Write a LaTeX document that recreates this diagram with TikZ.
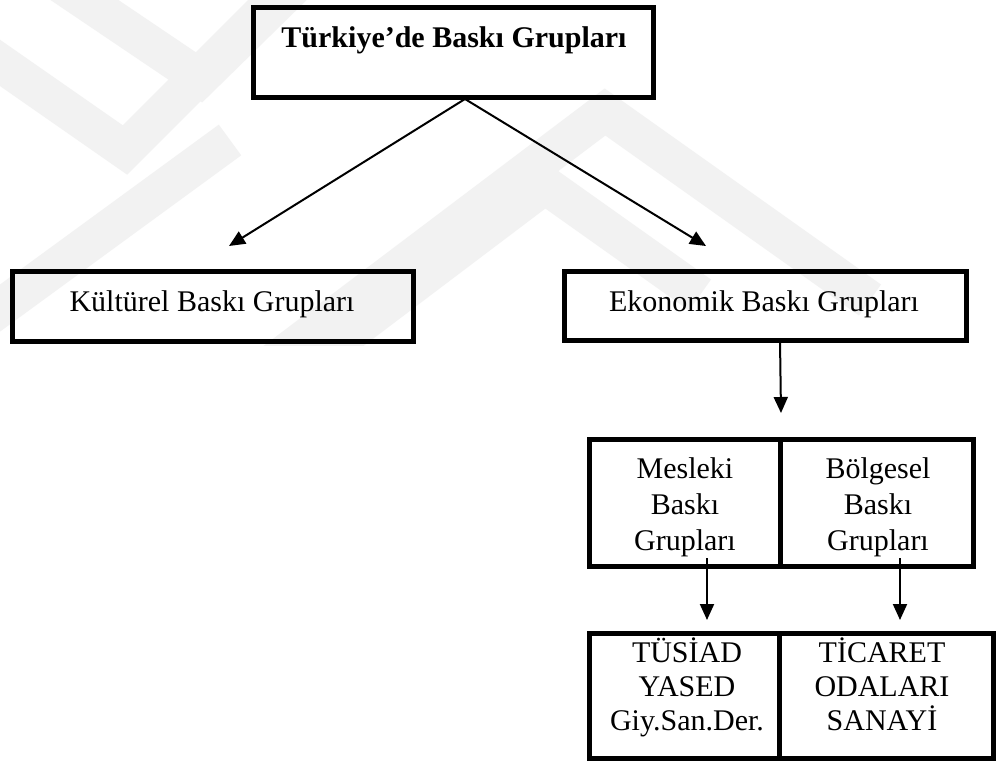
\documentclass[tikz,border=0pt]{standalone}
\usepackage{fontspec}
\setmainfont{Liberation Serif}
\usetikzlibrary{arrows.meta}
\begin{document}
\begin{tikzpicture}[x=1pt,y=-1pt,
  box/.style={draw=black,line width=5pt,inner sep=0pt},
  lbl/.style={font=\fontsize{30}{36}\selectfont,inner sep=0pt,align=center},
  lblb/.style={font=\fontsize{30}{34}\selectfont,inner sep=0pt,align=center},
  conn/.style={line width=2pt,-{Triangle[length=16pt,width=14pt]}},
  wm/.style={line width=38pt,black!5,line join=miter}]
\useasboundingbox (0,0) rectangle (997,763);
\fill[white] (0,0) rectangle (997,763);
% faint watermark
\begin{scope}
\clip (0,0) rectangle (997,345);
\draw[wm] (-40,35) -- (125,150) -- (285,-10);
\draw[wm] (40,-30) -- (200,78) -- (300,-20);
\draw[wm] (250,380) -- (605,112) -- (870,300);
\draw[wm] (287,380) -- (545,185) -- (700,295);
\draw[wm] (-30,330) -- (230,140);
\end{scope}
% boxes
\node[box,minimum width=400pt,minimum height=90pt] (top) at (453,52) {};
\node[lbl,font=\fontsize{30}{36}\selectfont\bfseries,anchor=base] (toptxt) at (454,47) {Türkiye’de Baskı Grupları};
\node[box,minimum width=401pt,minimum height=70pt] (kul) at (212.5,306.5) {};
\node[lbl,anchor=base] (kultxt) at (212,311) {Kültürel Baskı Grupları};
\node[box,minimum width=402pt,minimum height=69pt] (eko) at (765,305.5) {};
\node[lbl,anchor=base] (ekotxt) at (764,311) {Ekonomik Baskı Grupları};
\node[box,minimum width=191pt,minimum height=127pt] (mes) at (684.5,502.5) {};
\node[lbl] (mestxt) at (685,507) {Mesleki\\Baskı\\Grupları};
\node[box,minimum width=193pt,minimum height=127pt] (bol) at (876.5,502.5) {};
\node[lbl] (boltxt) at (878,507) {Bölgesel\\Baskı\\Grupları};
\node[box,minimum width=190pt,minimum height=125pt] (tus) at (684,695.5) {};
\node[lblb] (tustxt) at (687,687) {TÜSİAD\\YASED\\Giy.San.Der.};
\node[box,minimum width=214pt,minimum height=125pt] (tic) at (886,695.5) {};
\node[lblb] (tictxt) at (882,684) {TİCARET\\ODALARI\\SANAYİ};
% connector end points
\coordinate (apex) at (465,99);
\coordinate (kultip) at (229,246);
\coordinate (ekotip) at (706,246);
\coordinate (ekofrom) at (780,340);
\coordinate (ekodown) at (781,413);
\coordinate (mesfrom) at (707,558);
\coordinate (mesdown) at (707,620);
\coordinate (bolfrom) at (900,558);
\coordinate (boldown) at (900,620);
% connectors
\draw[conn] (apex) -- (kultip);
\draw[conn] (apex) -- (ekotip);
\draw[conn] (ekofrom) -- (ekodown);
\draw[conn] (mesfrom) -- (mesdown);
\draw[conn] (bolfrom) -- (boldown);
\end{tikzpicture}
\end{document}
